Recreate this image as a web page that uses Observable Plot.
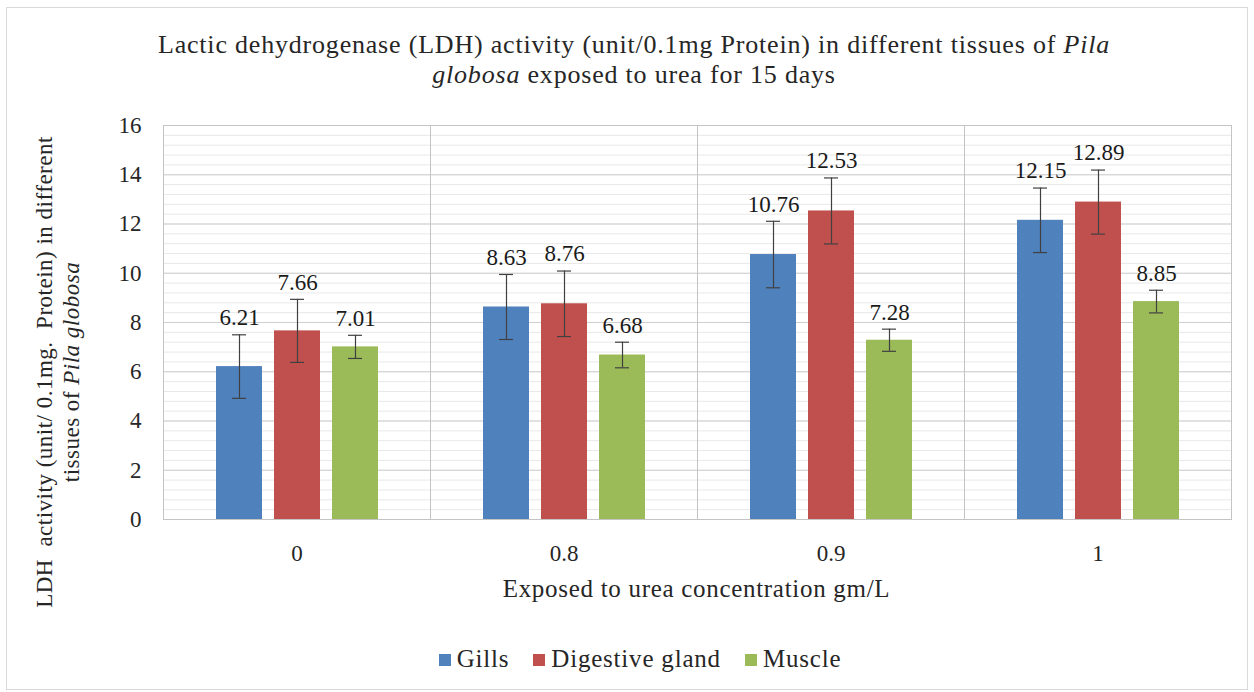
<!DOCTYPE html>
<html><head><meta charset="utf-8">
<script src="https://cdn.jsdelivr.net/npm/d3@7"></script>
<script src="https://cdn.jsdelivr.net/npm/@observablehq/plot@0.6"></script>
<style>
body{margin:0;background:#fff;font-family:"Liberation Serif","Times New Roman",Tinos,"Nimbus Roman","Noto Serif","DejaVu Serif",serif;color:#262626}
#wrap{position:relative;width:1254px;height:692px;overflow:hidden;background:#fff}
#frame{position:absolute;left:6px;top:7px;width:1242px;height:683px;border:1px solid #d9d9d9;box-sizing:border-box}
#title{position:absolute;left:0;width:1268px;top:30px;text-align:center;font-size:26px;line-height:30px;letter-spacing:0.8px}
#chart{position:absolute;left:0;top:100px}
#ytitle{position:absolute;width:560px;height:60px;left:-219px;top:342px;transform:rotate(-90deg);text-align:center;font-size:23px;line-height:27px;letter-spacing:0.5px}
#xtitle{position:absolute;left:162px;width:1069px;top:575px;text-align:center;font-size:25px;line-height:28px;letter-spacing:0.7px}
#legend{position:absolute;left:0;width:1280px;top:645px;text-align:center;font-size:25px;line-height:28px;letter-spacing:0.8px}
#legend span.item{display:inline-block;margin:0 12px}
#legend span.sw{display:inline-block;width:12px;height:12px;margin-right:6px;vertical-align:1px}
</style></head>
<body>
<div id="wrap">
  <div id="frame"></div>
  <div id="title">Lactic dehydrogenase (LDH) activity (unit/0.1mg Protein) in different tissues of <i>Pila</i><br><i>globosa</i> exposed to urea for 15 days</div>
  <div id="chart"></div>
  <div id="ytitle">LDH&nbsp; activity (unit/ 0.1mg.&nbsp; Protein) in different<br>tissues of <i>Pila globosa</i></div>
  <div id="xtitle">Exposed to urea concentration gm/L</div>
  <div id="legend"></div>
</div>
<script>
const concentrations = ["0", "0.8", "0.9", "1"];
const tissues = ["Gills", "Digestive gland", "Muscle"];
const gills = [6.21, 8.63, 10.76, 12.15];
const digestiveGland = [7.66, 8.76, 12.53, 12.89];
const muscle = [7.01, 6.68, 7.28, 8.85];
const gillsErr = [1.29, 1.32, 1.35, 1.31];
const digestiveGlandErr = [1.28, 1.33, 1.34, 1.30];
const muscleErr = [0.47, 0.52, 0.45, 0.46];
const yTicks = [0, 2, 4, 6, 8, 10, 12, 14, 16];
const colors = ["#4F81BD", "#C0504D", "#9BBB59"];
const serif = '"Liberation Serif","Times New Roman",Tinos,"Nimbus Roman","Noto Serif","DejaVu Serif",serif';

const seriesValues = [gills, digestiveGland, muscle];
const seriesErr = [gillsErr, digestiveGlandErr, muscleErr];
const rows = [];
concentrations.forEach((c, i) => {
  tissues.forEach((t, j) => {
    rows.push({conc: c, tissue: t, value: seriesValues[j][i], err: seriesErr[j][i]});
  });
});
const minorTicks = d3.range(0, 16.001, 0.4);

const plot = Plot.plot({
  width: 1254, height: 510,
  marginLeft: 162, marginRight: 23, marginTop: 25, marginBottom: 91,
  style: {fontFamily: serif, fontSize: "22px", color: "#262626", background: "transparent", overflow: "visible"},
  fx: {domain: concentrations, padding: 0, label: null},
  x: {domain: tissues, paddingInner: 0.21, paddingOuter: 0.87, axis: null},
  y: {domain: [0, 16], label: null},
  color: {domain: tissues, range: colors},
  marks: [
    Plot.gridY(minorTicks, {stroke: "#e8e8e8", strokeOpacity: 1}),
    Plot.gridY(yTicks, {stroke: "#cfcfcf", strokeOpacity: 1}),
    Plot.frame({stroke: "#c4c4c4"}),
    Plot.barY(rows, {fx: "conc", x: "tissue", y: "value", fill: "tissue"}),
    Plot.ruleX(rows, {fx: "conc", x: "tissue", y1: d => d.value - d.err, y2: d => d.value + d.err, stroke: "#404040", strokeWidth: 1.2}),
    Plot.tickY(rows, {fx: "conc", x: "tissue", y: d => d.value + d.err, insetLeft: 16, insetRight: 16, stroke: "#404040", strokeWidth: 1.2}),
    Plot.tickY(rows, {fx: "conc", x: "tissue", y: d => d.value - d.err, insetLeft: 16, insetRight: 16, stroke: "#404040", strokeWidth: 1.2}),
    Plot.text(rows, {fx: "conc", x: "tissue", y: d => d.value + d.err, text: d => d.value.toFixed(2), dy: -17, fontSize: 23, fill: "#1a1a1a", fontFamily: serif}),
    Plot.axisY(yTicks, {tickSize: 0, tickPadding: 22, label: null, fontSize: 23, fontFamily: serif}),
    Plot.axisFx({anchor: "bottom", tickSize: 0, tickPadding: 25, label: null, fontSize: 23, fontFamily: serif})
  ]
});
document.getElementById("chart").appendChild(plot);

const legend = document.getElementById("legend");
tissues.forEach((t, j) => {
  const item = document.createElement("span");
  item.className = "item";
  const sw = document.createElement("span");
  sw.className = "sw";
  sw.style.background = colors[j];
  item.appendChild(sw);
  item.appendChild(document.createTextNode(t));
  legend.appendChild(item);
});
</script>
</body></html>
